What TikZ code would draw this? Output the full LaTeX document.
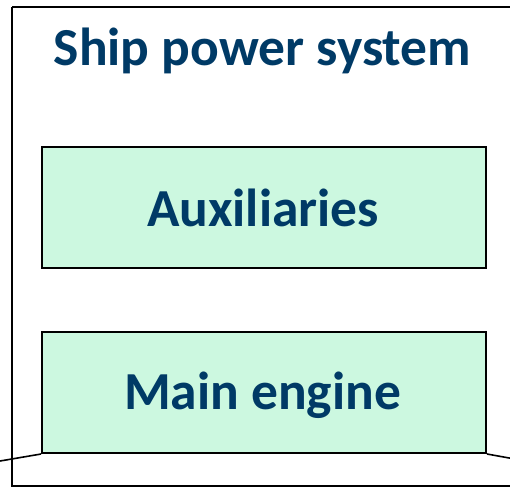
\documentclass[tikz,border=0pt]{standalone}
\usepackage{fontspec}
\setmainfont{Carlito}
\usepackage{xcolor}
\usepackage{tikz}
\usetikzlibrary{positioning}

\definecolor{navy}{HTML}{003A66}
\definecolor{mint}{HTML}{CCF8E0}

\tikzset{
  block/.style={draw, line width=2pt, fill=mint, minimum width=444pt, minimum height=121pt, inner sep=0pt},
  caption/.style={text=navy, anchor=base, inner sep=0pt, font=\bfseries\fontsize{53.5}{60}\selectfont}
}

\begin{document}
\begin{tikzpicture}[x=1pt, y=-1pt]
\useasboundingbox (0,0) rectangle (510,488);
% Outer frame
\draw[line width=2pt] (12,7) -- (520,7);
\draw[line width=2pt] (12,7) -- (12,486) -- (520,486);
\node[caption] (title) at (262.5,65) {Ship power system};

% Blocks
\node[block] (aux) at (264,207.5) {};
\node[caption] (auxtext) at (263,226) {Auxiliaries};
\node[block, below=62pt of aux] (engine) {};
\node[caption] (enginetext) at (262.5,409) {Main engine};

% Base lines
\coordinate (baseL) at (0,461);
\coordinate (baseR) at (512,458.5);
\draw[line width=1.6pt] (engine.south west) -- (baseL);
\draw[line width=1.6pt] (engine.south east) -- (baseR);
\end{tikzpicture}
\end{document}
